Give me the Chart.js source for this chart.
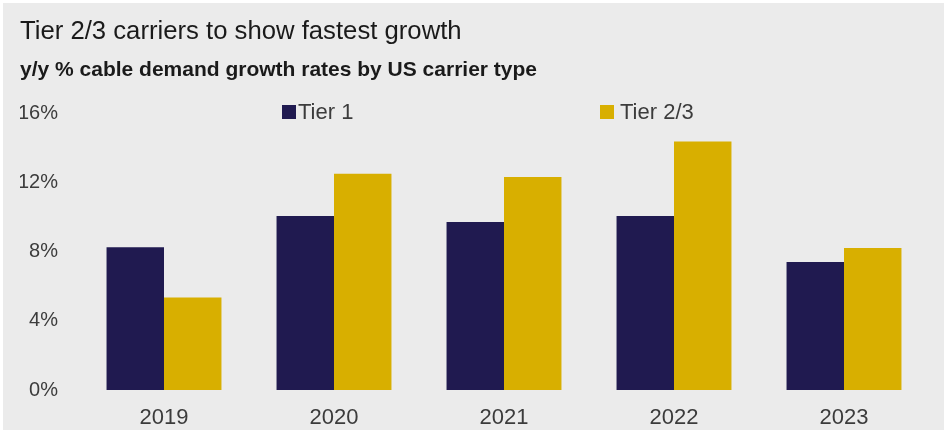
<!DOCTYPE html>
<html lang="en">
<head>
    <meta charset="UTF-8">
    <title>Tier 2/3 carriers to show fastest growth</title>
    <script src="https://cdn.jsdelivr.net/npm/chart.js"></script>
    <style>
        body {
            margin: 0;
            background: #ffffff;
            font-family: "Liberation Sans", Arial, sans-serif;
        }
        #box {
            position: absolute;
            left: 3px;
            top: 3px;
            width: 941px;
            height: 427px;
            background: #ebebeb;
        }
    </style>
</head>
<body>
    <div id="box">
        <canvas id="chart"></canvas>
    </div>

    <script>
        // data
        const years = ['2019', '2020', '2021', '2022', '2023'];
        const tier1 = [8.25, 10.05, 9.7, 10.05, 7.4];
        const tier23 = [5.35, 12.5, 12.3, 14.35, 8.2];
        const yTicks = [0, 4, 8, 12, 16];

        const navy = '#201a50';
        const gold = '#d8af00';
        const textColor = '#3c3c3c';
        const font = '"Liberation Sans", Arial, sans-serif';

        // legend drawn by hand, the two items sit far apart
        const legendPos = [{ x: 279, text: 295 }, { x: 597, text: 617 }];
        const manualLegend = {
            id: 'manualLegend',
            afterDraw(chart) {
                const ctx = chart.ctx;
                ctx.save();
                ctx.font = '22px ' + font;
                ctx.textBaseline = 'middle';
                chart.data.datasets.forEach((ds, i) => {
                    const p = legendPos[i];
                    ctx.fillStyle = ds.backgroundColor;
                    ctx.fillRect(p.x, 102, 14, 14);
                    ctx.fillStyle = textColor;
                    ctx.fillText(ds.label, p.text, 110);
                });
                ctx.restore();
            }
        };

        new Chart(document.getElementById('chart'), {
            type: 'bar',
            data: {
                labels: years,
                datasets: [
                    { label: 'Tier 1', data: tier1, backgroundColor: navy },
                    { label: 'Tier 2/3', data: tier23, backgroundColor: gold }
                ]
            },
            options: {
                responsive: true,
                maintainAspectRatio: false,
                animation: false,
                datasets: {
                    bar: { barPercentage: 1, categoryPercentage: 0.676 }
                },
                layout: { padding: { left: 17, right: 15, top: 0, bottom: 0 } },
                scales: {
                    x: {
                        grid: { display: false, drawTicks: false },
                        border: { display: false },
                        afterFit: (axis) => { axis.height = 40; },
                        ticks: {
                            color: textColor,
                            padding: 15,
                            font: { family: font, size: 22 }
                        }
                    },
                    y: {
                        min: 0,
                        max: 16,
                        afterBuildTicks: (axis) => { axis.ticks = yTicks.map(v => ({ value: v })); },
                        afterFit: (axis) => { axis.width = 59; },
                        grid: { display: false, drawTicks: false },
                        border: { display: false },
                        ticks: {
                            color: textColor,
                            padding: 21,
                            font: { family: font, size: 20 },
                            callback: (v) => v + '%'
                        }
                    }
                },
                plugins: {
                    legend: { display: false },
                    tooltip: { enabled: false },
                    title: {
                        display: true,
                        text: 'Tier 2/3 carriers to show fastest growth',
                        align: 'start',
                        color: '#1a1a1a',
                        font: { family: font, size: 25.7, weight: 'normal' },
                        padding: { top: 13, bottom: 0 }
                    },
                    subtitle: {
                        display: true,
                        text: 'y/y % cable demand growth rates by US carrier type',
                        align: 'start',
                        color: '#1a1a1a',
                        font: { family: font, size: 21, weight: 'bold' },
                        padding: { top: 11, bottom: 30 }
                    }
                }
            },
            plugins: [manualLegend]
        });
    </script>
</body>
</html>
